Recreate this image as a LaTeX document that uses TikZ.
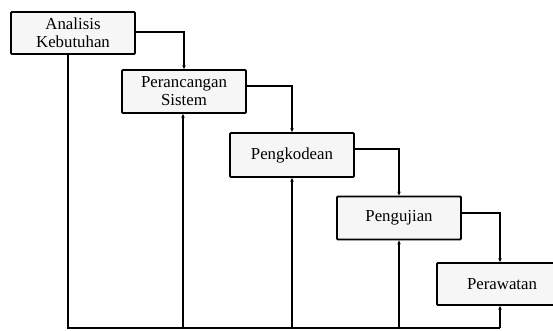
\documentclass[tikz,border=0pt]{standalone}
\usepackage{fontspec}
\setmainfont{Liberation Serif}
\usetikzlibrary{arrows.meta}
\begin{document}
\begin{tikzpicture}[x=1pt,y=-1pt,
  stagebox/.style={draw=black, line width=1.8pt, fill=gray!7, rounded corners=1pt,
    minimum width=124pt, inner sep=0pt, align=center, font=\fontsize{16.8}{18}\selectfont},
  flow/.style={draw=black, line width=1.2pt, -{Stealth[length=4pt,width=3.5pt]}},
  plain/.style={draw=black, line width=1.2pt}]
\useasboundingbox (0,0) rectangle (553,330);
\clip (0,0) rectangle (553,330);
\node[stagebox, minimum height=42pt] (a) at (73,33) {Analisis\\Kebutuhan};
\node[stagebox, minimum height=43pt] (b) at (184,91.5) {Perancangan\\Sistem};
\node[stagebox, minimum height=44pt] (c) at (292,155) {Pengkodean};
\node[stagebox, minimum height=43pt] (d) at (399,218) {Pengujian};
\node[stagebox, minimum height=42pt, minimum width=130pt] (e) at (502,284) {Perawatan};
% forward flow
\draw[flow] (a.east |- 0,32) -| (b.north);
\draw[flow] (b.east |- 0,86) -| (c.north);
\draw[flow] (c.east |- 0,149) -| (d.north);
\draw[flow] (d.east |- 0,213) -| (500,0 |- e.north);
% feedback
\coordinate (base1) at (68,328);
\coordinate (base5) at (500,328);
\draw[plain] (a.south -| base1) -- (base1) -- (base5);
\draw[flow] (183,328) -- (183,0 |- b.south);
\draw[flow] (292,328) -- (292,0 |- c.south);
\draw[flow] (399,328) -- (399,0 |- d.south);
\draw[flow] (base5) -- (base5 |- e.south);
\end{tikzpicture}
\end{document}
